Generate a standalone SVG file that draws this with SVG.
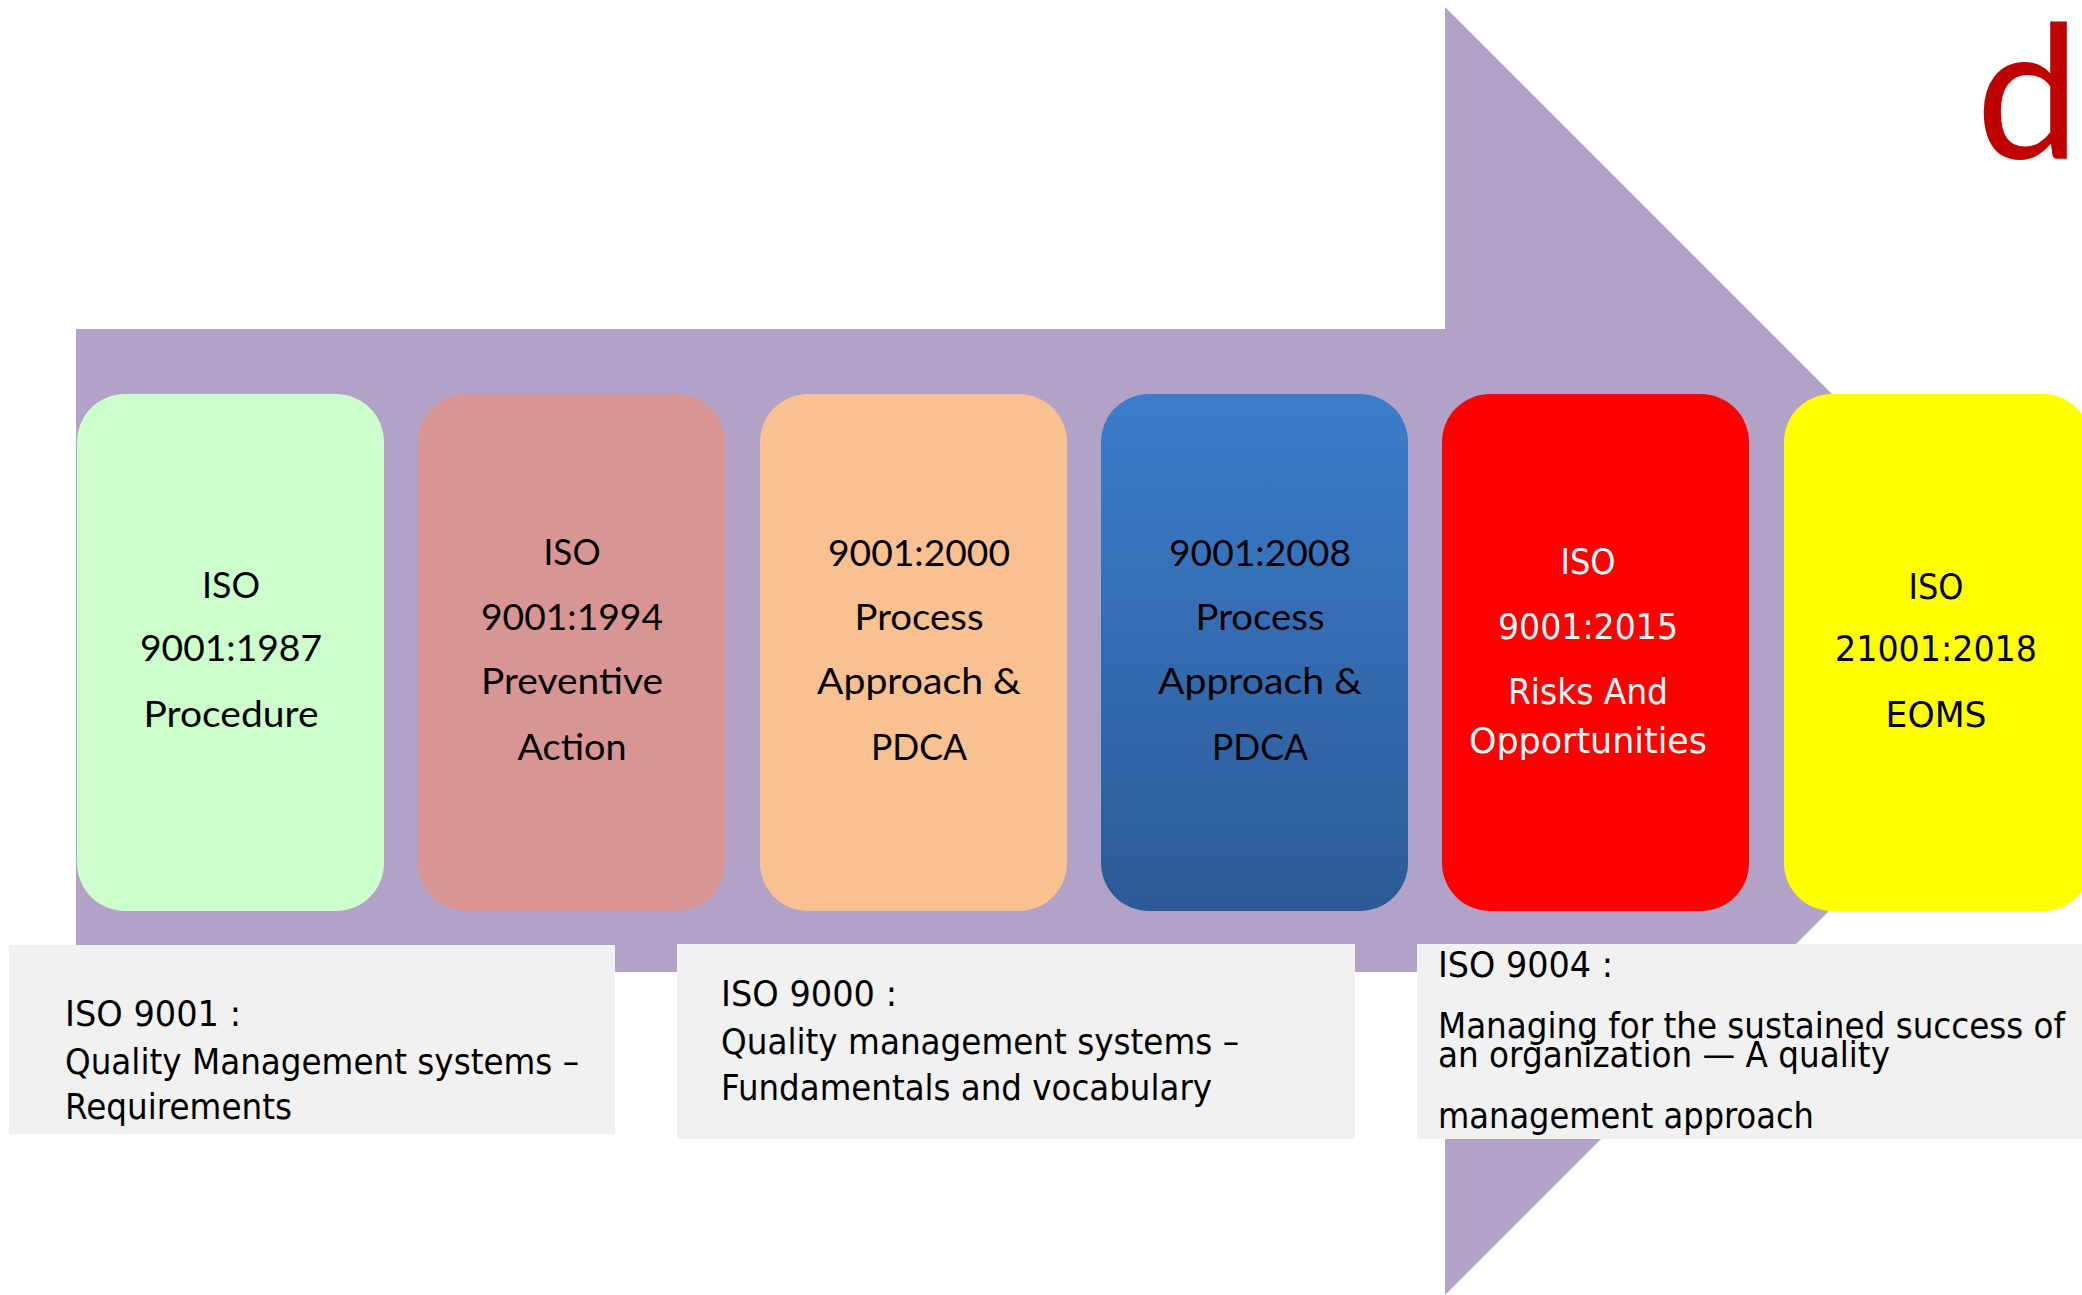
<svg xmlns="http://www.w3.org/2000/svg" width="2082" height="1295" viewBox="0 0 2082 1295">
  <defs>
    <linearGradient id="blueGrad" x1="0" y1="0" x2="0" y2="1">
      <stop offset="0" stop-color="#3C7DCB"/>
      <stop offset="1" stop-color="#2C5A97"/>
    </linearGradient>
    <style>
      .cal { font-family: Lato, "Open Sans", "Liberation Sans", sans-serif; font-size: 37px; fill: #000; text-anchor: middle; }
      .ver { font-family: "DejaVu Sans", Verdana, sans-serif; font-size: 36px; text-anchor: middle; }
      .tah { font-family: "DejaVu Sans", Tahoma, sans-serif; font-size: 36px; fill: #000; }
      .gray { fill: #F1F1F1; }
    </style>
  </defs>
  <rect width="2082" height="1295" fill="#FFFFFF"/>

  <!-- big arrow -->
  <polygon id="arrow" points="76,329 1445,329 1445,7 2089,651 1445,1295 1445,972 76,972" fill="#B3A2C7"/>

  <!-- logo fragment -->
  <text x="2080" y="159" font-family="Lato, 'Liberation Sans', sans-serif" font-size="186" fill="#C00000" text-anchor="end">d</text>

  <g id="node-1987">
    <rect x="77" y="394" width="307" height="517" rx="48" ry="48" fill="#CCFFCC"/>
    <text class="cal" x="231" y="598" textLength="58" lengthAdjust="spacingAndGlyphs">ISO</text>
    <text class="cal" x="231" y="661" textLength="182" lengthAdjust="spacingAndGlyphs">9001:1987</text>
    <text class="cal" x="231" y="727" textLength="175" lengthAdjust="spacingAndGlyphs">Procedure</text>
  </g>

  <g id="node-1994">
    <rect x="418" y="394" width="307" height="517" rx="48" ry="48" fill="#D99594"/>
    <text class="cal" x="572" y="565" textLength="57" lengthAdjust="spacingAndGlyphs">ISO</text>
    <text class="cal" x="572" y="630" textLength="182" lengthAdjust="spacingAndGlyphs">9001:1994</text>
    <text class="cal" x="572" y="694" textLength="182" lengthAdjust="spacingAndGlyphs">Preventive</text>
    <text class="cal" x="572" y="760" textLength="109" lengthAdjust="spacingAndGlyphs">Action</text>
  </g>

  <g id="node-2000">
    <rect x="760" y="394" width="307" height="517" rx="48" ry="48" fill="#F9C090"/>
    <text class="cal" x="919" y="566" textLength="182" lengthAdjust="spacingAndGlyphs">9001:2000</text>
    <text class="cal" x="919" y="630" textLength="129" lengthAdjust="spacingAndGlyphs">Process</text>
    <text class="cal" x="919" y="694" textLength="204" lengthAdjust="spacingAndGlyphs">Approach &amp;</text>
    <text class="cal" x="919" y="760" textLength="96" lengthAdjust="spacingAndGlyphs">PDCA</text>
  </g>

  <g id="node-2008">
    <rect x="1101" y="394" width="307" height="517" rx="48" ry="48" fill="url(#blueGrad)"/>
    <text class="cal" x="1260" y="566" textLength="182" lengthAdjust="spacingAndGlyphs">9001:2008</text>
    <text class="cal" x="1260" y="630" textLength="129" lengthAdjust="spacingAndGlyphs">Process</text>
    <text class="cal" x="1260" y="694" textLength="204" lengthAdjust="spacingAndGlyphs">Approach &amp;</text>
    <text class="cal" x="1260" y="760" textLength="96" lengthAdjust="spacingAndGlyphs">PDCA</text>
  </g>

  <g id="node-2015">
    <rect x="1442" y="394" width="307" height="517" rx="48" ry="48" fill="#FF0000"/>
    <text class="ver" fill="#FFFFFF" x="1588" y="574" textLength="55" lengthAdjust="spacingAndGlyphs">ISO</text>
    <text class="ver" fill="#FFFFFF" x="1588" y="639" textLength="180" lengthAdjust="spacingAndGlyphs">9001:2015</text>
    <text class="ver" fill="#FFFFFF" x="1588" y="704" textLength="160" lengthAdjust="spacingAndGlyphs">Risks And</text>
    <text class="ver" fill="#FFFFFF" x="1588" y="753" textLength="238" lengthAdjust="spacingAndGlyphs">Opportunities</text>
  </g>

  <g id="node-2018">
    <rect x="1784" y="394" width="307" height="517" rx="48" ry="48" fill="#FFFF00"/>
    <text class="ver" fill="#000000" x="1936" y="599" textLength="55" lengthAdjust="spacingAndGlyphs">ISO</text>
    <text class="ver" fill="#000000" x="1936" y="661" textLength="202" lengthAdjust="spacingAndGlyphs">21001:2018</text>
    <text class="ver" fill="#000000" x="1936" y="727" textLength="101" lengthAdjust="spacingAndGlyphs">EOMS</text>
  </g>

  <g id="connectors"></g>

  <g id="note-9001">
    <rect class="gray" x="9" y="945" width="606" height="189"/>
    <text class="tah" x="65" y="1026" textLength="176" lengthAdjust="spacingAndGlyphs">ISO 9001 :</text>
    <text class="tah" x="65" y="1074" textLength="514" lengthAdjust="spacingAndGlyphs">Quality Management systems –</text>
    <text class="tah" x="65" y="1119" textLength="227" lengthAdjust="spacingAndGlyphs">Requirements</text>
  </g>

  <g id="note-9000">
    <rect class="gray" x="677" y="944" width="678" height="195"/>
    <text class="tah" x="721" y="1006" textLength="176" lengthAdjust="spacingAndGlyphs">ISO 9000 :</text>
    <text class="tah" x="721" y="1054" textLength="518" lengthAdjust="spacingAndGlyphs">Quality management systems –</text>
    <text class="tah" x="721" y="1100" textLength="491" lengthAdjust="spacingAndGlyphs">Fundamentals and vocabulary</text>
  </g>

  <g id="note-9004">
    <rect class="gray" x="1417" y="944" width="665" height="195"/>
    <text class="tah" x="1438" y="977" textLength="175" lengthAdjust="spacingAndGlyphs">ISO 9004 :</text>
    <text class="tah" x="1438" y="1038" textLength="627" lengthAdjust="spacingAndGlyphs">Managing for the sustained success of</text>
    <text class="tah" x="1438" y="1067" textLength="452" lengthAdjust="spacingAndGlyphs">an organization — A quality</text>
    <text class="tah" x="1438" y="1128" textLength="376" lengthAdjust="spacingAndGlyphs">management approach</text>
  </g>
</svg>
